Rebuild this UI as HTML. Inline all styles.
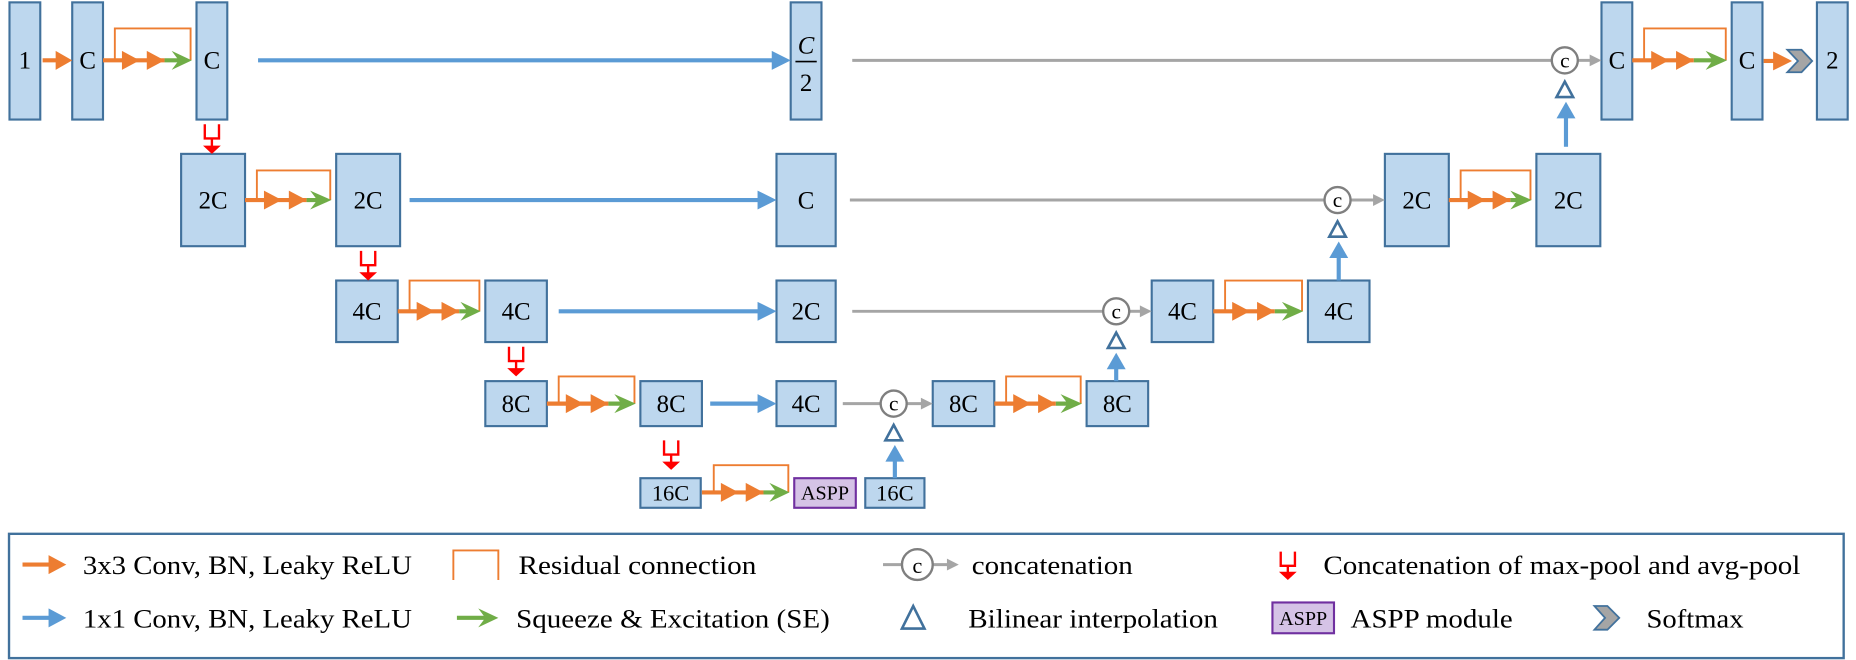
<!DOCTYPE html>
<html><head><meta charset="utf-8"><style>
html,body{margin:0;padding:0;background:#fff;}
svg{display:block;}
text{font-family:"Liberation Serif",serif;fill:#000;}
</style></head><body>
<svg width="1856" height="660" viewBox="0 0 1568 557.6" xmlns="http://www.w3.org/2000/svg">
<g fill="#bdd7ee" stroke="#41719c" stroke-width="1.8">
<!-- row1 -->
<rect x="8" y="2" width="26" height="99"/><rect x="61" y="2" width="26" height="99"/><rect x="166" y="2" width="26" height="99"/>
<rect x="668" y="2" width="26" height="99"/>
<rect x="1353" y="2" width="26" height="99"/><rect x="1463" y="2" width="26" height="99"/><rect x="1535" y="2" width="26" height="99"/>
<!-- row2 -->
<rect x="153" y="130" width="54" height="78"/><rect x="284" y="130" width="54" height="78"/><rect x="656" y="130" width="50" height="78"/>
<rect x="1170" y="130" width="54" height="78"/><rect x="1298" y="130" width="54" height="78"/>
<!-- row3 -->
<rect x="284" y="237" width="52" height="52"/><rect x="410" y="237" width="52" height="52"/><rect x="656" y="237" width="50" height="52"/>
<rect x="973" y="237" width="52" height="52"/><rect x="1105" y="237" width="52" height="52"/>
<!-- row4 -->
<rect x="410" y="322" width="52" height="38"/><rect x="541" y="322" width="52" height="38"/><rect x="656" y="322" width="50" height="38"/>
<rect x="788" y="322" width="52" height="38"/><rect x="918" y="322" width="52" height="38"/>
<!-- row5 -->
<rect x="541" y="404" width="51" height="25"/><rect x="731" y="404" width="50" height="25"/>
</g>
<rect x="671" y="404" width="52" height="25" fill="#d5c3e6" stroke="#7030a0" stroke-width="1.8"/>

<g font-size="21" text-anchor="middle">
<text x="21" y="58">1</text><text x="74" y="58">C</text><text x="179" y="58">C</text>
<text x="681" y="45" font-style="italic">C</text><text x="681" y="77">2</text>
<text x="1366" y="58">C</text><text x="1476" y="58">C</text><text x="1548" y="58">2</text>
<text x="180" y="176">2C</text><text x="311" y="176">2C</text><text x="681" y="176">C</text>
<text x="1197" y="176">2C</text><text x="1325" y="176">2C</text>
<text x="310" y="270">4C</text><text x="436" y="270">4C</text><text x="681" y="270">2C</text>
<text x="999" y="270">4C</text><text x="1131" y="270">4C</text>
<text x="436" y="348">8C</text><text x="567" y="348">8C</text><text x="681" y="348">4C</text>
<text x="814" y="348">8C</text><text x="944" y="348">8C</text>
</g>
<line x1="672" y1="52" x2="690" y2="52" stroke="#000" stroke-width="1.3"/>
<g font-size="19" text-anchor="middle">
<text x="566.5" y="423">16C</text><text x="756" y="423">16C</text>
<text x="697" y="422" font-size="17">ASPP</text>
</g>

<!-- first orange arrow -->
<line x1="36" y1="51" x2="50" y2="51" stroke="#ed7d31" stroke-width="3.5"/>
<polygon points="47,43 61,51 47,59" fill="#ed7d31"/>

<!-- residual blocks -->
<g id="blocks">
<!-- template via explicit coords -->
</g>
<g fill="none" stroke="#ed7d31" stroke-width="1.6">
<polyline points="97,51 97,24 161,24 161,51"/>
<polyline points="1389,51 1389,24 1458,24 1458,51"/>
<polyline points="217,169 217,144 279,144 279,169"/>
<polyline points="1234,169 1234,144 1293,144 1293,169"/>
<polyline points="346,263 346,237 405,237 405,263"/>
<polyline points="1035,263 1035,237 1100,237 1100,263"/>
<polyline points="472,341 472,318 536,318 536,341"/>
<polyline points="850,341 850,318 913,318 913,341"/>
<polyline points="603,416 603,393 666,393 666,416"/>
</g>
<g stroke-width="3.5">
<g stroke="#ed7d31">
<line x1="87" y1="51" x2="139" y2="51"/><line x1="1379" y1="51" x2="1431" y2="51"/>
<line x1="207" y1="169" x2="259" y2="169"/><line x1="1224" y1="169" x2="1276" y2="169"/>
<line x1="336" y1="263" x2="388" y2="263"/><line x1="1025" y1="263" x2="1077" y2="263"/>
<line x1="462" y1="341" x2="514" y2="341"/><line x1="840" y1="341" x2="892" y2="341"/>
<line x1="593" y1="416" x2="645" y2="416"/>
</g>
<g stroke="#70ad47">
<line x1="139" y1="51" x2="158" y2="51"/><line x1="1431" y1="51" x2="1455" y2="51"/>
<line x1="259" y1="169" x2="276" y2="169"/><line x1="1276" y1="169" x2="1290" y2="169"/>
<line x1="388" y1="263" x2="402" y2="263"/><line x1="1077" y1="263" x2="1097" y2="263"/>
<line x1="514" y1="341" x2="533" y2="341"/><line x1="892" y1="341" x2="910" y2="341"/>
<line x1="645" y1="416" x2="663" y2="416"/>
</g>
</g>
<g fill="#ed7d31">
<polygon points="103,43 118,51 103,59"/><polygon points="124,43 139,51 124,59"/>
<polygon points="1395,43 1410,51 1395,59"/><polygon points="1416,43 1431,51 1416,59"/>
<polygon points="223,161 238,169 223,177"/><polygon points="244,161 259,169 244,177"/>
<polygon points="1240,161 1255,169 1240,177"/><polygon points="1261,161 1276,169 1261,177"/>
<polygon points="352,255 367,263 352,271"/><polygon points="373,255 388,263 373,271"/>
<polygon points="1041,255 1056,263 1041,271"/><polygon points="1062,255 1077,263 1062,271"/>
<polygon points="478,333 493,341 478,349"/><polygon points="499,333 514,341 499,349"/>
<polygon points="856,333 871,341 856,349"/><polygon points="877,333 892,341 877,349"/>
<polygon points="609,408 624,416 609,424"/><polygon points="630,408 645,416 630,424"/>
</g>
<g fill="#70ad47">
<polygon points="145,43 162,51 145,59 151,51"/>
<polygon points="1441,43 1459,51 1441,59 1447,51"/>
<polygon points="262,161 280,169 262,177 268,169"/>
<polygon points="1276,161 1294,169 1276,177 1282,169"/>
<polygon points="389,255 406,263 389,271 395,263"/>
<polygon points="1083,255 1101,263 1083,271 1089,263"/>
<polygon points="519,333 537,341 519,349 525,341"/>
<polygon points="896,333 914,341 896,349 902,341"/>
<polygon points="650,408 667,416 650,424 656,416"/>
</g>

<!-- blue horizontal arrows -->
<g stroke="#5b9bd5" stroke-width="3.5">
<line x1="218" y1="51" x2="656" y2="51"/><line x1="346" y1="169" x2="644" y2="169"/>
<line x1="472" y1="263" x2="644" y2="263"/><line x1="600" y1="341" x2="644" y2="341"/>
</g>
<g fill="#5b9bd5">
<polygon points="652,43 668,51 652,59"/><polygon points="640,161 656,169 640,177"/>
<polygon points="640,255 656,263 640,271"/><polygon points="640,333 656,341 640,349"/>
</g>

<!-- gray lines -->
<g stroke="#a5a5a5" stroke-width="2.5">
<line x1="720" y1="51" x2="1311" y2="51"/><line x1="1333" y1="51" x2="1345" y2="51"/>
<line x1="718" y1="169" x2="1119" y2="169"/><line x1="1141" y1="169" x2="1162" y2="169"/>
<line x1="720" y1="263" x2="932" y2="263"/><line x1="954" y1="263" x2="965" y2="263"/>
<line x1="712" y1="341" x2="744" y2="341"/><line x1="766" y1="341" x2="780" y2="341"/>
</g>
<g fill="#a5a5a5">
<polygon points="1343,46 1353,51 1343,56"/><polygon points="1160,164 1170,169 1160,174"/>
<polygon points="963,258 973,263 963,268"/><polygon points="778,336 788,341 778,346"/>
</g>
<g fill="#fff" stroke="#7f7f7f" stroke-width="2">
<circle cx="1322" cy="51" r="11"/><circle cx="1130" cy="169" r="11"/>
<circle cx="943" cy="263" r="11"/><circle cx="755" cy="341" r="11"/>
</g>
<g font-size="18" text-anchor="middle">
<text x="1322" y="57">c</text><text x="1130" y="175">c</text><text x="943" y="269">c</text><text x="755" y="347">c</text>
</g>
<!-- interp triangles & up arrows -->
<g fill="#fff" stroke="#41719c" stroke-width="2.2">
<polygon points="1322,69 1329,82 1315,82"/><polygon points="1130,187 1137,200 1123,200"/>
<polygon points="943,281 950,294 936,294"/><polygon points="755,359 762,372 748,372"/>
</g>
<g stroke="#5b9bd5" stroke-width="3.5">
<line x1="1323" y1="98" x2="1323" y2="124"/><line x1="1131" y1="216" x2="1131" y2="237"/>
<line x1="943" y1="310" x2="943" y2="322"/><line x1="756" y1="388" x2="756" y2="404"/>
</g>
<g fill="#5b9bd5">
<polygon points="1323,86 1331,100 1315,100"/><polygon points="1131,204 1139,218 1123,218"/>
<polygon points="943,298 951,312 935,312"/><polygon points="756,376 764,390 748,390"/>
</g>

<!-- pool symbols -->
<g stroke="#ff0000" stroke-width="2" fill="none">
<polyline points="173,105 173,117 185,117 185,105"/><line x1="179" y1="117" x2="179" y2="124"/>
<polyline points="305,212 305,224 317,224 317,212"/><line x1="311" y1="224" x2="311" y2="231"/>
<polyline points="430,293 430,305 442,305 442,293"/><line x1="436" y1="305" x2="436" y2="312"/>
<polyline points="561,372 561,384 573,384 573,372"/><line x1="567" y1="384" x2="567" y2="391"/>
</g>
<g fill="#ff0000">
<polygon points="171.5,123 186.5,123 179,130"/><polygon points="303.5,230 318.5,230 311,237"/>
<polygon points="428.5,311 443.5,311 436,318"/><polygon points="559.5,390 574.5,390 567,397"/>
</g>

<!-- softmax -->
<line x1="1490" y1="51.5" x2="1502" y2="51.5" stroke="#ed7d31" stroke-width="3.5"/>
<polygon points="1498,43.5 1514,51.5 1498,59.5" fill="#ed7d31"/>
<polygon points="1510,42 1522,42 1531,51.5 1522,61 1510,61 1519,51.5" fill="#a5a5a5" stroke="#41719c" stroke-width="1.5"/>

<!-- legend -->
<rect x="7.6" y="451" width="1550" height="105" fill="none" stroke="#41719c" stroke-width="2"/>
<line x1="19" y1="477" x2="44" y2="477" stroke="#ed7d31" stroke-width="3.5"/>
<polygon points="41,469 56,477 41,485" fill="#ed7d31"/>
<line x1="19" y1="522" x2="44" y2="522" stroke="#5b9bd5" stroke-width="3.5"/>
<polygon points="41,514 56,522 41,530" fill="#5b9bd5"/>
<polyline points="383,490 383,465 421,465 421,490" fill="none" stroke="#ed7d31" stroke-width="1.6"/>
<line x1="386" y1="522" x2="412" y2="522" stroke="#70ad47" stroke-width="3.5"/>
<polygon points="404,514 421,522 404,530 410,522" fill="#70ad47"/>
<line x1="746" y1="477" x2="762" y2="477" stroke="#a5a5a5" stroke-width="2.5"/>
<line x1="788" y1="477" x2="802" y2="477" stroke="#a5a5a5" stroke-width="2.5"/>
<polygon points="800,472 810,477 800,482" fill="#a5a5a5"/>
<circle cx="775" cy="477" r="13" fill="#fff" stroke="#7f7f7f" stroke-width="2"/>
<text x="775" y="484" font-size="19" text-anchor="middle">c</text>
<polygon points="771.5,512 781,531 762,531" fill="#fff" stroke="#41719c" stroke-width="2.2"/>
<polyline points="1082,466 1082,478 1094,478 1094,466" fill="none" stroke="#ff0000" stroke-width="2"/>
<line x1="1088" y1="478" x2="1088" y2="484" stroke="#ff0000" stroke-width="2"/>
<polygon points="1080.5,483 1095.5,483 1088,490" fill="#ff0000"/>
<rect x="1075" y="509" width="52" height="26" fill="#d5c3e6" stroke="#7030a0" stroke-width="1.8"/>
<text x="1101" y="528" font-size="17" text-anchor="middle">ASPP</text>
<polygon points="1347,512 1358,512 1368,522 1358,532 1347,532 1356,522" fill="#a5a5a5" stroke="#41719c" stroke-width="1.5"/>
<g font-size="22">
<text x="70" y="485" textLength="278" lengthAdjust="spacingAndGlyphs">3x3 Conv, BN, Leaky ReLU</text>
<text x="70" y="530" textLength="278" lengthAdjust="spacingAndGlyphs">1x1 Conv, BN, Leaky ReLU</text>
<text x="438" y="485" textLength="201" lengthAdjust="spacingAndGlyphs">Residual connection</text>
<text x="436" y="530" textLength="265" lengthAdjust="spacingAndGlyphs">Squeeze &amp; Excitation (SE)</text>
<text x="821" y="485" textLength="136" lengthAdjust="spacingAndGlyphs">concatenation</text>
<text x="818" y="530" textLength="211" lengthAdjust="spacingAndGlyphs">Bilinear interpolation</text>
<text x="1118" y="485" textLength="403" lengthAdjust="spacingAndGlyphs">Concatenation of max-pool and avg-pool</text>
<text x="1141" y="530" textLength="137" lengthAdjust="spacingAndGlyphs">ASPP module</text>
<text x="1391" y="530" textLength="82" lengthAdjust="spacingAndGlyphs">Softmax</text>
</g>
</svg>
</body></html>
